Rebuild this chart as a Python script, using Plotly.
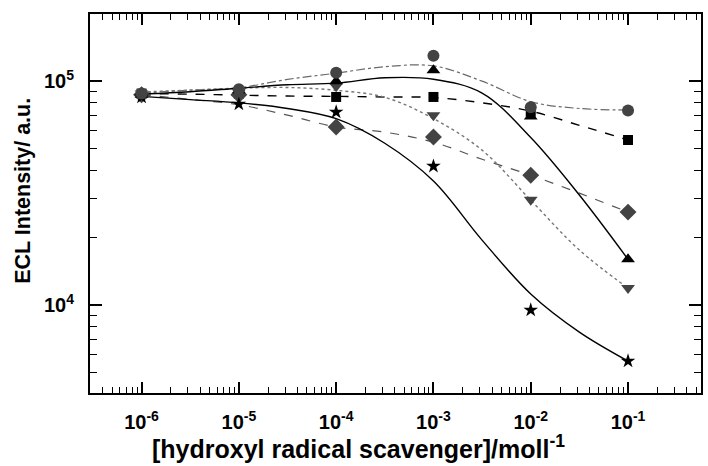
import plotly.graph_objects as go

conc = [1e-6, 1e-5, 1e-4, 1e-3, 1e-2, 1e-1]
circle_y = [88000, 92000, 109000, 130000, 76500, 74000]
triup_y = [87000, 91000, 100000, 112000, 69500, 16000]
square_y = [88000, 88000, 85000, 85000, 73000, 54600]
tridown_y = [88000, 89000, 95000, 70500, 29500, 11900]
diamond_y = [87000, 87000, 62400, 56300, 38000, 26000]
star_y = [85000, 79000, 72800, 41700, 9500, 5620]

# fitted curves (half-decade steps)
fit_x = [1e-6, 3.16e-6, 1e-5, 3.16e-5, 1e-4, 3.16e-4, 1e-3, 3.16e-3, 1e-2, 3.16e-2, 1e-1]
circle_fit = [88500, 91200, 93500, 101800, 108600, 116000, 117000, 100000, 81000, 75500, 74300]
triup_fit = [87500, 89700, 93000, 96300, 98000, 103500, 102000, 88500, 56000, 31000, 16000]
square_fit = [88000, 87500, 86600, 85800, 85500, 85000, 84500, 80000, 73500, 63500, 54600]
tridown_fit = [89500, 91200, 93000, 93700, 91000, 84700, 68000, 49200, 29400, 17600, 11900]
diamond_fit = [87000, 82900, 78500, 70500, 62400, 59200, 53400, 44800, 38000, 31600, 26000]
star_fit = [85500, 82700, 80000, 75500, 68000, 52800, 35800, 19500, 11200, 7570, 5620]

x_tickvals = [1e-6, 1e-5, 1e-4, 1e-3, 1e-2, 1e-1]
x_ticktext = ["<b>10<sup>-6</sup></b>", "<b>10<sup>-5</sup></b>", "<b>10<sup>-4</sup></b>",
              "<b>10<sup>-3</sup></b>", "<b>10<sup>-2</sup></b>", "<b>10<sup>-1</sup></b>"]
y_tickvals = [1e4, 1e5]
y_ticktext = ["<b>10<sup>4</sup></b>", "<b>10<sup>5</sup></b>"]
x_title = "<b>[hydroxyl radical scavenger]/moll<sup>-1</sup></b>"
y_title = "<b>ECL Intensity/ a.u.</b>"

DG = "#434343"
fig = go.Figure()

fits = [
    (circle_fit, "#6a6a6a", "dashdot", 1.2),
    (square_fit, "black", "dash", 1.4),
    (diamond_fit, "#555555", "dash", 1.2),
    (tridown_fit, "#777777", "dot", 1.4),
    (triup_fit, "black", "solid", 1.4),
    (star_fit, "black", "solid", 1.4),
]
for ys, col, dash, w in fits:
    fig.add_trace(go.Scatter(x=fit_x, y=ys, mode="lines",
                             line=dict(color=col, dash=dash, width=w, shape="spline", smoothing=1.0),
                             hoverinfo="skip", showlegend=False))

markers = [
    (square_y, "square", "black", 10),
    (diamond_y, "diamond", DG, 13),
    (tridown_y, "triangle-down", DG, 12),
    (star_y, "star", "black", 11),
    (triup_y, "triangle-up", "black", 12),
    (circle_y, "circle", DG, 12),
]
for ys, sym, col, sz in markers:
    fig.add_trace(go.Scatter(x=conc, y=ys, mode="markers",
                             marker=dict(symbol=sym, color=col, size=sz, line=dict(width=0)),
                             showlegend=False))

FAM = "Liberation Sans, Arial, sans-serif"
fig.update_layout(
    width=708, height=466,
    margin=dict(l=90, r=5, t=14, b=73),
    paper_bgcolor="white", plot_bgcolor="white",
    font=dict(family=FAM, color="black"),
    xaxis=dict(type="log", range=[-6.53, -0.25], tickvals=x_tickvals, ticktext=x_ticktext,
               ticks="inside", ticklen=11, tickwidth=1.5, tickcolor="black",
               showline=True, linewidth=2, linecolor="black", mirror="ticks",
               showgrid=False, zeroline=False, ticklabelstandoff=10,
               tickfont=dict(size=20, family=FAM, color="black"),
               minor=dict(ticks="inside", ticklen=6, tickwidth=1.2, tickcolor="black", dtick="D1", showgrid=False)),
    yaxis=dict(type="log", range=[3.607, 5.30], tickvals=y_tickvals, ticktext=y_ticktext,
               ticks="inside", ticklen=12, tickwidth=1.5, tickcolor="black",
               showline=True, linewidth=2, linecolor="black", mirror="ticks",
               showgrid=False, zeroline=False, ticklabelstandoff=10,
               tickfont=dict(size=20, family=FAM, color="black"),
               minor=dict(ticks="inside", ticklen=7, tickwidth=1.2, tickcolor="black", dtick="D1", showgrid=False)),
    annotations=[
        dict(text=y_title, xref="paper", yref="paper",
             x=-0.11, y=0.533, xanchor="center", yanchor="middle", textangle=-90,
             showarrow=False, font=dict(size=21.5, family=FAM, color="black")),
        dict(text=x_title, xref="paper", yref="paper",
             x=0.439, y=-0.1425, xanchor="center", yanchor="middle",
             showarrow=False, font=dict(size=25, family=FAM, color="black")),
    ],
)
fig.write_html("out.html")
